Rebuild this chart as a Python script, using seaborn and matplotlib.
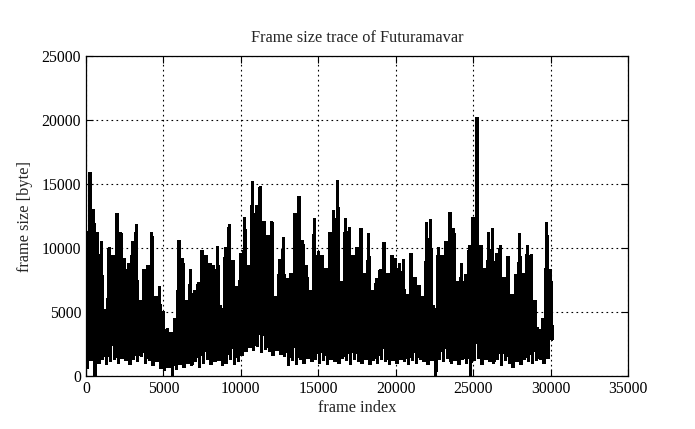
import numpy as np
import pandas as pd
import matplotlib
matplotlib.use("Agg")
import matplotlib.pyplot as plt
import seaborn as sns

# Frame size trace in blocks of 250 frames:
# the tallest peak, the lowest trough and the top of the solid black body
peak_frames = list(range(0, 30001, 250))
peak_sizes = [
    4500, 15900, 13000, 11200, 10500, 5200, 10000, 9400, 12700, 11200,
    9200, 8800, 10500, 11800, 5900, 8300, 8600, 11200, 6200, 7000,
    5000, 3700, 3400, 4500, 10600, 9200, 5900, 8300, 6700, 7300,
    9800, 9400, 8800, 8600, 10100, 5000, 10000, 11800, 9000, 7000,
    9600, 12400, 8600, 15200, 13300, 14800, 12100, 11000, 12100, 6200,
    9100, 10800, 7600, 8000, 12700, 14000, 10600, 8600, 6700, 12300,
    9700, 9400, 8400, 11200, 12900, 15300, 7400, 12300, 11600, 9400,
    10000, 11500, 8000, 11100, 6700, 7600, 8300, 10400, 8000, 9400,
    9200, 8800, 9100, 6400, 9600, 7700, 7100, 6200, 12000, 12200,
    5100, 10000, 9400, 10500, 12800, 11500, 7400, 8800, 7900, 10200,
    12400, 20200, 10200, 8400, 11200, 11500, 9600, 10200, 7700, 9300,
    6400, 7900, 11100, 8000, 10200, 9500, 5900, 2300, 4500, 12000,
    8300,
]
trough_frames = list(range(83, 30000, 250))
trough_sizes = [
    600, 1200, 0, 1000, 1300, 900, 1100, 1300, 1000, 1400,
    1200, 900, 1300, 1100, 1500, 1000, 1200, 800, 1100, 600,
    400, 700, 0, 500, 900, 700, 1000, 800, 1100, 700,
    1000, 1300, 900, 1100, 1200, 800, 1000, 1300, 900, 1100,
    1600, 1900, 2200, 2000, 2300, 1800, 2100, 1900, 1600, 2000,
    1700, 1500, 800, 1200, 900, 1300, 1000, 1400, 1100, 1300,
    1000, 1200, 900, 1300, 1100, 1000, 1400, 1200, 900, 1300,
    1100, 1000, 1300, 900, 1200, 1000, 1300, 1100, 900, 1200,
    1000, 1300, 1100, 900, 1200, 1000, 1300, 1100, 900, 1200,
    0, 1300, 1100, 1400, 1000, 1200, 900, 1300, 1000, 0,
    1200, 1400, 900, 1300, 1100, 1000, 1300, 800, 1200, 1000,
    700, 1100, 900, 1300, 1100, 1000, 1200, 1300, 1000, 1400,
]
body_frames = list(range(167, 30000, 250))
body_sizes = [
    7000, 6500, 5500, 6000, 4500, 5000, 6000, 5500,
    6000, 5000, 4500, 5000, 5500, 4000, 4500, 5000,
    4500, 5000, 4000, 3500, 3000, 2500, 2800, 3500,
    4500, 3500, 3800, 4000, 4200, 4800, 5000, 4600,
    5200, 4800, 5500, 4500, 5800, 5000, 4800, 5200,
    6000, 7000, 6500, 7500, 8000, 7000, 6500, 6000,
    5500, 5000, 5800, 5200, 4500, 5000, 6000, 5500,
    5000, 4800, 5200, 5500, 5000, 5300, 4800, 5500,
    5800, 6000, 5000, 5500, 5200, 4800, 5500, 5000,
    4800, 5200, 4500, 5000, 4800, 5300, 4600, 5000,
    5000, 4600, 4800, 4200, 4800, 4500, 4300, 4000,
    5000, 5500, 3500, 4500, 4800, 5200, 5500, 5000,
    4500, 4800, 4500, 5000, 5500, 6000, 5000, 4800,
    5000, 5200, 4800, 5000, 4200, 4600, 3800, 4200,
    4800, 4500, 5000, 4600, 3800, 2800, 3000, 5000,
]
end_frame = [30100]
end_size = [2900]

x_ticks = [0, 5000, 10000, 15000, 20000, 25000, 30000, 35000]
y_ticks = [0, 5000, 10000, 15000, 20000, 25000]

df = pd.DataFrame({
    "frame": peak_frames + trough_frames + body_frames + end_frame,
    "size": peak_sizes + trough_sizes + body_sizes + end_size,
}).sort_values("frame")

sns.set_style("ticks")
plt.rcParams["font.family"] = ["Liberation Serif", "DejaVu Serif"]

fig = plt.figure(figsize=(6.95, 4.29), dpi=100)
ax = fig.add_axes([0.1237, 0.1235, 0.7799, 0.746])

sns.lineplot(data=df, x="frame", y="size", color="black", linewidth=1.7,
             sort=False, estimator=None, antialiased=False,
             solid_joinstyle="bevel", ax=ax)

ax.set_xlim(0, 35000)
ax.set_ylim(0, 25000)
ax.set_xticks(x_ticks)
ax.set_yticks(y_ticks)
ax.grid(True, color="black", linestyle=(0, (1.5, 3)), linewidth=0.8)
ax.tick_params(direction="in", top=True, right=True, length=5,
               labelsize=11.3, colors="black", width=0.8)
for s in ax.spines.values():
    s.set_linewidth(0.9)
    s.set_color("black")

ax.set_title("Frame size trace of Futuramavar", fontsize=11.8, pad=10)
ax.set_xlabel("frame index", fontsize=11.8, labelpad=2)
ax.set_ylabel("frame size [byte]", fontsize=11.8, labelpad=6)

fig.savefig("out.png", dpi=100)
